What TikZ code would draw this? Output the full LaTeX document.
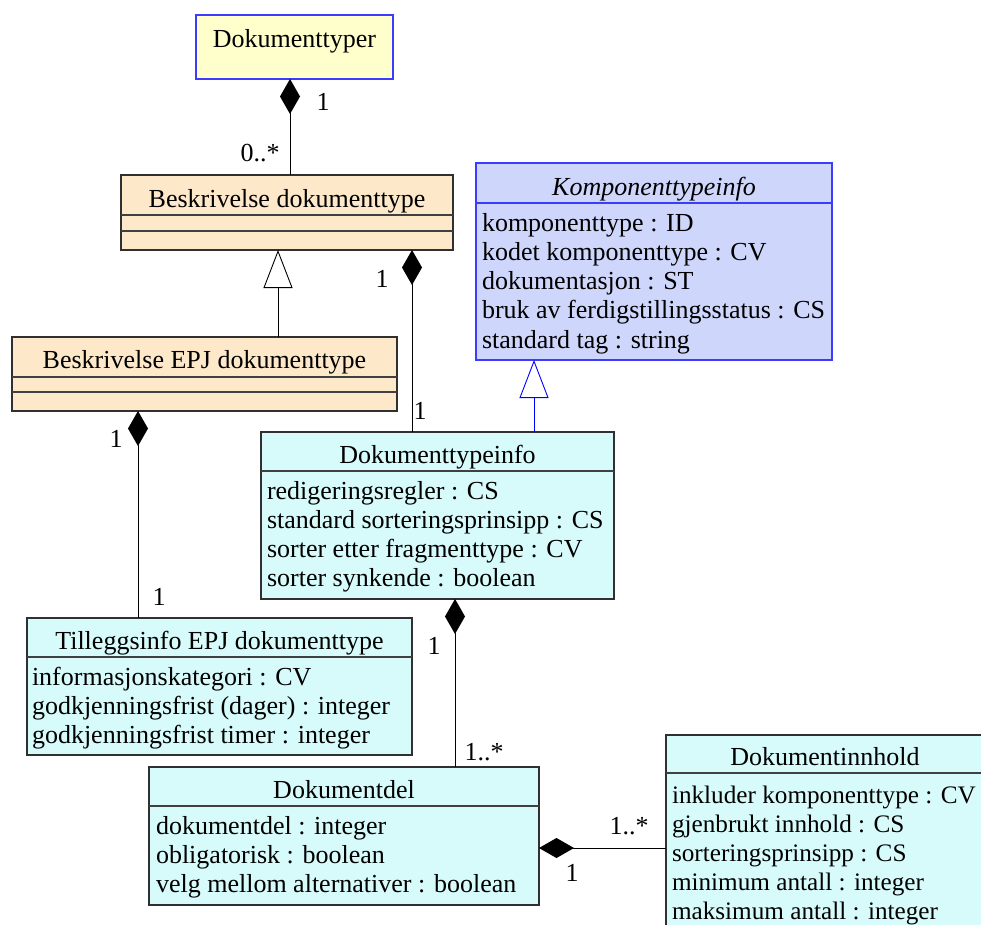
\documentclass[tikz,border=0pt]{standalone}
\usepackage{fontspec}
\setmainfont{Liberation Serif}
\usetikzlibrary{arrows.meta}

\definecolor{typefill}{HTML}{FFFFCC}
\definecolor{descfill}{HTML}{FDE8C9}
\definecolor{absfill}{HTML}{CFD6FB}
\definecolor{infofill}{HTML}{D7FBFB}
\definecolor{umlblue}{HTML}{3C3CFF}
\definecolor{boxline}{HTML}{303030}
\definecolor{sepline}{HTML}{404040}

\begin{document}
\begin{tikzpicture}[x=1pt,y=-1pt,
  every node/.style={font=\fontsize{26}{30}\selectfont, inner sep=0pt, outer sep=0pt},
  umlclass/.style={rectangle, draw=boxline, line width=1.2pt},
  title/.style={anchor=base},
  attr/.style={anchor=base west},
  sep/.style={draw=sepline, line width=1.1pt},
  comp/.style={line width=0.9pt, {Diamond[length=35pt,width=20pt,fill=black]}-},
  gen/.style={line width=0.9pt, -{Triangle[length=38pt,width=29pt,fill=white]}},
]
\useasboundingbox (0,0) rectangle (981,924);
\clip (0,0) rectangle (981,924);

% ---------- class boxes ----------
\node[umlclass, draw=umlblue, fill=typefill, minimum width=197pt, minimum height=64pt] (typer) at (294.5,47) {};
\node[title] (typer-t) at (294.5,47) {Dokumenttyper};

\node[umlclass, fill=descfill, minimum width=332pt, minimum height=75pt] (beskr) at (287,212.5) {};
\node[title] (beskr-t) at (287,207) {Beskrivelse dokumenttype};
\draw[sep] ([yshift=-40pt]beskr.north west) -- ([yshift=-40pt]beskr.north east);
\draw[sep] ([yshift=-56pt]beskr.north west) -- ([yshift=-56pt]beskr.north east);

\node[umlclass, fill=descfill, minimum width=385pt, minimum height=74pt] (epj) at (204.5,374) {};
\node[title] (epj-t) at (204.5,368) {Beskrivelse EPJ dokumenttype};
\draw[sep] ([yshift=-40pt]epj.north west) -- ([yshift=-40pt]epj.north east);
\draw[sep] ([yshift=-55pt]epj.north west) -- ([yshift=-55pt]epj.north east);

\node[umlclass, draw=umlblue, fill=absfill, minimum width=356pt, minimum height=197pt] (komp) at (654,261.5) {};
\node[title, font=\fontsize{26}{30}\selectfont\itshape] (komp-t) at (654,195) {Komponenttypeinfo};
\draw[sep, draw=umlblue] ([yshift=-40pt]komp.north west) -- ([yshift=-40pt]komp.north east);
\foreach \t [count=\i] in {{komponenttype : ID},{kodet komponenttype : CV},{dokumentasjon : ST},{bruk av ferdigstillingsstatus : CS},{standard tag : string}}
  \node[attr] (komp-\i) at (482,{231+29.3*(\i-1)}) {\t};

\node[umlclass, fill=infofill, minimum width=353pt, minimum height=167pt] (dtinfo) at (437.5,515.5) {};
\node[title] (dtinfo-t) at (437.5,463) {Dokumenttypeinfo};
\draw[sep] ([yshift=-39pt]dtinfo.north west) -- ([yshift=-39pt]dtinfo.north east);
\foreach \t [count=\i] in {{redigeringsregler : CS},{standard sorteringsprinsipp : CS},{sorter etter fragmenttype : CV},{sorter synkende : boolean}}
  \node[attr] (dtinfo-\i) at (267,{499+29.3*(\i-1)}) {\t};

\node[umlclass, fill=infofill, minimum width=385pt, minimum height=137pt] (tillegg) at (219.5,686.5) {};
\node[title] (tillegg-t) at (219.5,649) {Tilleggsinfo EPJ dokumenttype};
\draw[sep] ([yshift=-39pt]tillegg.north west) -- ([yshift=-39pt]tillegg.north east);
\foreach \t [count=\i] in {{informasjonskategori : CV},{godkjenningsfrist (dager) : integer},{godkjenningsfrist timer : integer}}
  \node[attr] (tillegg-\i) at (32,{685+29.3*(\i-1)}) {\t};

\node[umlclass, fill=infofill, minimum width=390pt, minimum height=138pt] (del) at (344,836) {};
\node[title] (del-t) at (344,798) {Dokumentdel};
\draw[sep] ([yshift=-39pt]del.north west) -- ([yshift=-39pt]del.north east);
\foreach \t [count=\i] in {{dokumentdel : integer},{obligatorisk : boolean},{velg mellom alternativer : boolean}}
  \node[attr] (del-\i) at (156,{834+29.3*(\i-1)}) {\t};

\node[umlclass, fill=infofill, minimum width=318pt, minimum height=210pt] (innhold) at (825,840) {};
\node[title] (innhold-t) at (825,765) {Dokumentinnhold};
\draw[sep] ([yshift=-38pt]innhold.north west) -- ([yshift=-38pt]innhold.north east);
\foreach \t [count=\i] in {{inkluder komponenttype : CV},{gjenbrukt innhold : CS},{sorteringsprinsipp : CS},{minimum antall : integer},{maksimum antall : integer}}
  \node[attr, font=\fontsize{25.2}{30}\selectfont] (innhold-\i) at (672,{803+29*(\i-1)}) {\t};

% ---------- associations ----------
\draw[comp] ([xshift=-4.5pt]typer.south) -- ([xshift=-4.5pt]typer.south |- beskr.north);
\draw[gen] ([xshift=-9pt]beskr.south |- epj.north) -- ([xshift=-9pt]beskr.south);
\draw[comp] ([xshift=125pt]beskr.south) -- ([xshift=125pt]beskr.south |- dtinfo.north);
\draw[gen, draw=blue] ([xshift=-120pt]komp.south |- dtinfo.north) -- ([xshift=-120pt]komp.south);
\draw[comp] ([xshift=-66.5pt]epj.south) -- ([xshift=-66.5pt]epj.south |- tillegg.north);
\draw[comp] ([xshift=17.5pt]dtinfo.south) -- ([xshift=17.5pt]dtinfo.south |- del.north);
\draw[comp] ([yshift=-12pt]del.east) -- ([yshift=-12pt]del.east -| innhold.west);

% ---------- multiplicities ----------
\node (m1) at (323,102) {1};
\node (m2) at (260,153) {0..*};
\node (m3) at (382,279) {1};
\node (m4) at (420,411) {1};
\node (m5) at (116,439) {1};
\node (m6) at (159,597) {1};
\node (m7) at (434,646) {1};
\node (m8) at (484,752) {1..*};
\node (m9) at (629,826) {1..*};
\node (m10) at (572,873) {1};
\end{tikzpicture}
\end{document}
